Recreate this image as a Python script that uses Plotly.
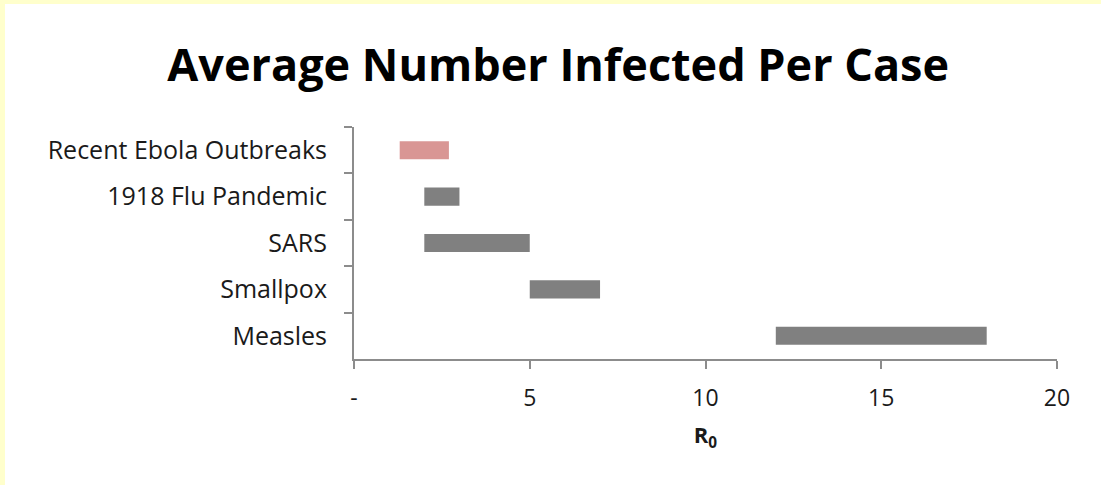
import plotly.graph_objects as go

# R0 ranges per disease (top to bottom)
diseases = ["Recent Ebola Outbreaks", "1918 Flu Pandemic", "SARS", "Smallpox", "Measles"]
r0_low = [1.3, 2.0, 2.0, 5.0, 12.0]
r0_high = [2.7, 3.0, 5.0, 7.0, 18.0]
bar_colors = ["#D99694", "#808080", "#808080", "#808080", "#808080"]

x_tick_vals = [0, 5, 10, 15, 20]
x_tick_text = ["-", "5", "10", "15", "20"]

spans = [hi - lo for lo, hi in zip(r0_low, r0_high)]

fig = go.Figure(
    go.Bar(
        y=diseases,
        x=spans,
        base=r0_low,
        orientation="h",
        marker=dict(color=bar_colors, line=dict(width=0)),
        width=0.39,
        hoverinfo="skip",
    )
)

axis_gray = "#8C8C8C"
text_color = "#1a1a1a"
font_family = "Open Sans, Noto Sans, sans-serif"

fig.update_layout(
    width=1101,
    height=485,
    margin=dict(l=354, r=44, t=127, b=126),
    paper_bgcolor="white",
    plot_bgcolor="white",
    showlegend=False,
    title=dict(
        text="<b>Average Number Infected Per Case</b>",
        x=0.507,
        xanchor="center",
        y=0.865,
        yanchor="middle",
        font=dict(family=font_family, size=45, color="black"),
    ),
    xaxis=dict(
        range=[0, 20],
        tickvals=x_tick_vals,
        ticktext=x_tick_text,
        showgrid=False,
        zeroline=False,
        showline=True,
        linecolor=axis_gray,
        linewidth=2,
        ticks="outside",
        ticklen=8,
        tickwidth=2,
        tickcolor=axis_gray,
        tickfont=dict(family=font_family, size=23, color=text_color),
        ticklabelstandoff=9,
        title=dict(
            text="<b>R<sub>0</sub></b>",
            font=dict(family=font_family, size=22, color=text_color),
            standoff=16,
        ),
    ),
    yaxis=dict(
        type="category",
        categoryorder="array",
        categoryarray=diseases,
        autorange="reversed",
        tickson="boundaries",
        showgrid=False,
        zeroline=False,
        showline=True,
        linecolor=axis_gray,
        linewidth=2,
        ticks="outside",
        ticklen=8,
        tickwidth=2,
        tickcolor=axis_gray,
        tickfont=dict(family=font_family, size=25, color=text_color),
        ticklabelstandoff=20,
    ),
    shapes=[
        # pale yellow frame along the top and left edges
        dict(type="rect", xref="paper", yref="paper",
             x0=-354 / 703, x1=1.1, y0=(359 - 4) / 232, y1=(359 - 0) / 232 + 0.01,
             fillcolor="#FFFFCC", line=dict(width=0), layer="below"),
        dict(type="rect", xref="paper", yref="paper",
             x0=-354 / 703 - 0.01, x1=(5 - 354) / 703, y0=-0.6, y1=1.6,
             fillcolor="#FFFFCC", line=dict(width=0), layer="below"),
    ],
)

fig.write_html("out.html")
